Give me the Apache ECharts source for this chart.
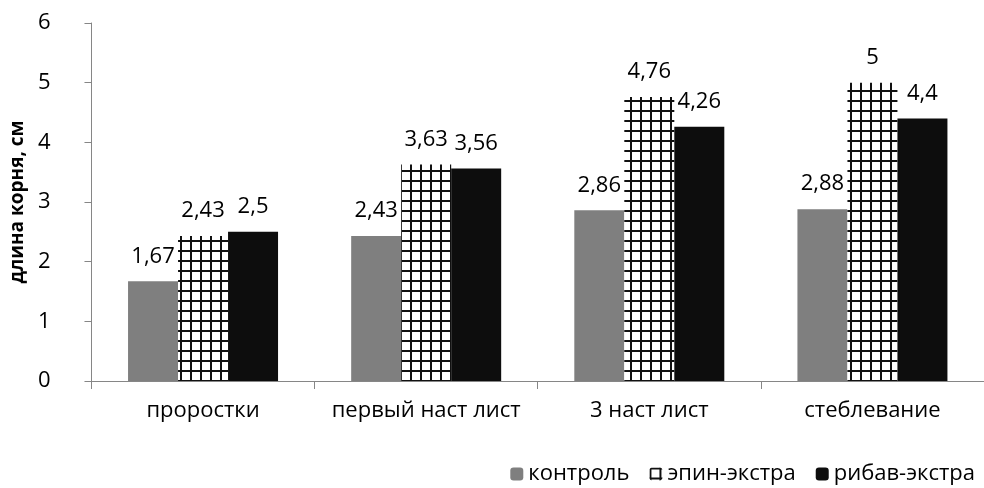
<!DOCTYPE html>
<html>
<head>
<meta charset="utf-8">
<script src="https://cdn.jsdelivr.net/npm/echarts@6/dist/echarts.min.js"></script>
<style>
  html, body { margin: 0; padding: 0; background: #fff; }
  #chart { width: 984px; height: 488px; }
</style>
</head>
<body>
<div id="chart"></div>
<script>
const categories = ['проростки', 'первый наст лист', '3 наст лист', 'стеблевание'];
const seriesNames = ['контроль', 'эпин-экстра', 'рибав-экстра'];
const control = [1.67, 2.43, 2.86, 2.88];
const epin = [2.43, 3.63, 4.76, 5];
const ribav = [2.5, 3.56, 4.26, 4.4];
const yTicks = [0, 1, 2, 3, 4, 5, 6];

// checkered fill: white cells separated by black lines
function makeCheck() {
  const c = document.createElement('canvas');
  c.width = 10; c.height = 10;
  const g = c.getContext('2d');
  g.fillStyle = '#ffffff';
  g.fillRect(0, 0, 10, 10);
  g.fillStyle = '#111111';
  g.fillRect(0, 0, 2, 10);
  g.fillRect(0, 0, 10, 2);
  return c;
}
const checkPattern = { image: makeCheck(), repeat: 'repeat' };

const FONT = '"Open Sans", "Liberation Sans", sans-serif';
const fmt = p => String(p.value).replace('.', ',');

const chart = echarts.init(document.getElementById('chart'), null, { renderer: 'canvas' });
const labelCfg = { show: true, position: 'top', distance: 14, color: '#000', fontSize: 22, fontFamily: FONT, formatter: fmt };

chart.setOption({
  animation: false,
  backgroundColor: '#fff',
  grid: { left: 89, right: 0, top: 23, bottom: 107 },
  legend: {
    right: 4, top: 458,
    itemWidth: 13, itemHeight: 13, itemGap: 20,
    textStyle: { fontSize: 22, fontFamily: FONT, color: '#000', padding: [0, 0, 0, 0] },
    data: seriesNames
  },
  xAxis: {
    type: 'category',
    data: categories,
    axisLine: { lineStyle: { color: '#868686', width: 1 } },
    axisTick: { show: true, length: 8, lineStyle: { color: '#868686' } },
    axisLabel: { color: '#000', fontSize: 22, fontFamily: FONT, margin: 19, interval: 0 }
  },
  yAxis: {
    type: 'value',
    min: yTicks[0], max: yTicks[yTicks.length - 1], interval: 1,
    name: 'длина корня, см',
    nameLocation: 'middle',
    nameGap: 62,
    nameTextStyle: { fontSize: 19, fontWeight: 'bold', fontFamily: FONT, color: '#000' },
    axisLine: { show: true, lineStyle: { color: '#868686', width: 1 } },
    axisTick: { show: true, length: 7, lineStyle: { color: '#868686' } },
    splitLine: { show: false },
    axisLabel: { color: '#000', fontSize: 22, fontFamily: FONT, margin: 41 }
  },
  series: [
    { name: seriesNames[0], type: 'bar', data: control, barWidth: 50, barGap: '0%',
      itemStyle: { color: '#7f7f7f' }, label: labelCfg },
    { name: seriesNames[1], type: 'bar', data: epin, barWidth: 50, barGap: '0%',
      itemStyle: { color: checkPattern }, label: labelCfg },
    { name: seriesNames[2], type: 'bar', data: ribav, barWidth: 50, barGap: '0%',
      itemStyle: { color: '#0d0d0d' }, label: labelCfg }
  ]
});
</script>
</body>
</html>
